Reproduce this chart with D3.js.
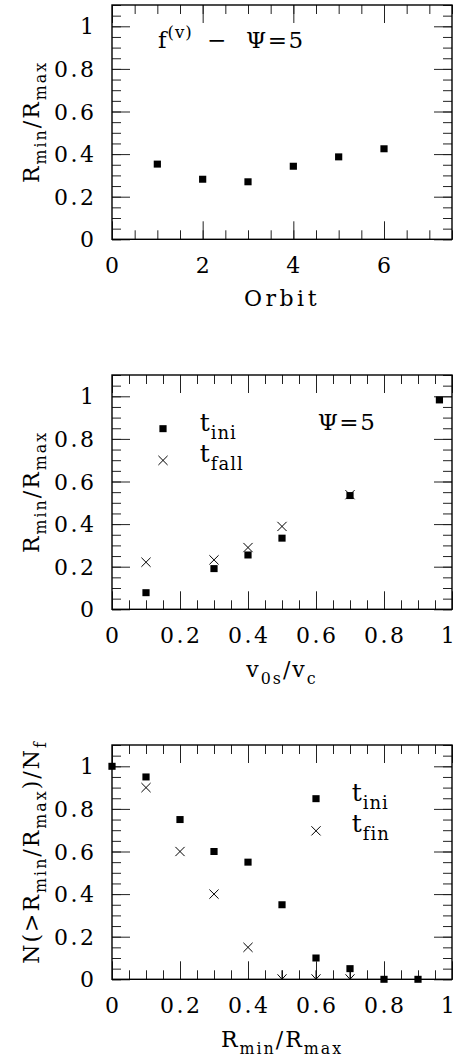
<!DOCTYPE html>
<html>
<head>
<meta charset="utf-8">
<script src="https://cdn.jsdelivr.net/npm/d3@7"></script>
<style>
  html, body { margin: 0; padding: 0; background: #fff; }
  svg { display: block; }
  text { font-family: "DejaVu Serif", serif; fill: #000; }
</style>
</head>
<body>
<svg id="chart" width="457" height="1064"></svg>
<script>
// ---- data ----
// Panel 1: pericentre/apocentre ratio per orbit, f^(v) model
const orbits = [1, 2, 3, 4, 5, 6];
const ratioByOrbit = [0.353, 0.282, 0.27, 0.343, 0.387, 0.425];

// Panel 2: ratio against initial velocity
const v0s = [0.1, 0.3, 0.4, 0.5, 0.7, 0.963];
const ratioIni = [0.078, 0.191, 0.255, 0.334, 0.534, 0.983];
const v0sFall = [0.1, 0.3, 0.4, 0.5, 0.7];
const ratioFall = [0.221, 0.232, 0.29, 0.389, 0.538];

// Panel 3: cumulative fraction above a given ratio
const rminBins = [0, 0.1, 0.2, 0.3, 0.4, 0.5, 0.6, 0.7, 0.8, 0.9];
const cumIni = [1.0, 0.95, 0.75, 0.6, 0.55, 0.35, 0.1, 0.05, 0, 0];
const rminFin = [0.1, 0.2, 0.3, 0.4];
const cumFin = [0.9, 0.6, 0.4, 0.15];
const rminFinLimit = [0.5, 0.6, 0.7];
const cumFinLimit = [0, 0, 0];

// tick labels
const ticksOrbit = [0, 2, 4, 6];
const ticksUnit = [0, 0.2, 0.4, 0.6, 0.8, 1];
const ticksY = [0, 0.2, 0.4, 0.6, 0.8, 1];

// ---- layout ----
const svg = d3.select("#chart");
const L = 112, R = 452, H = 234.3;
const FS = 22;          // tick labels
const TS = 22;          // titles and annotations
const LS = 2.5;         // tick label letter spacing
const MAJ = 18, MIN = 9;

function rich(textSel, parts, size) {
  const small = size * 0.72, shift = size * 0.3, up = size * 0.42;
  let state = 0; // 0 normal, 1 sub, -1 sup
  parts.forEach(p => {
    const want = p.sub ? 1 : (p.sup ? -1 : 0);
    const ts = textSel.append("tspan").text(p.t);
    let dy = 0;
    if (state === 1) dy -= shift;
    if (state === -1) dy += up;
    if (want === 1) dy += shift;
    if (want === -1) dy -= up;
    if (dy !== 0) ts.attr("dy", dy);
    ts.attr("font-size", want === 0 ? size : small);
    state = want;
  });
  return textSel;
}

const fmt = d => (d === 0 ? "0" : d === 1 ? "1" : d3.format(".1f")(d));

function panel(cfg) {
  const top = cfg.top, bot = top + H;
  const x = d3.scaleLinear().domain(cfg.xDomain).range([L, R]);
  const y = d3.scaleLinear().domain([0, 1.1]).range([bot, top]);
  const g = svg.append("g");

  const minorX = d3.range(cfg.xDomain[0], cfg.xDomain[1] + 1e-9, cfg.xMinor);
  const minorY = d3.range(0, 1.1 + 1e-9, 0.05);

  function tickAxis(axisFn, scale, vals, size, tr) {
    const a = g.append("g").attr("transform", tr)
      .call(axisFn(scale).tickValues(vals).tickSize(size).tickFormat(""));
    a.select(".domain").remove();
    a.selectAll("line").attr("stroke", "#222").attr("stroke-width", 1);
  }
  // minor and major ticks on all four sides, pointing inward
  tickAxis(d3.axisBottom, x, minorX, -MIN, `translate(0,${bot})`);
  tickAxis(d3.axisBottom, x, cfg.xMajor, -MAJ, `translate(0,${bot})`);
  tickAxis(d3.axisTop, x, minorX, -MIN, `translate(0,${top})`);
  tickAxis(d3.axisTop, x, cfg.xMajor, -MAJ, `translate(0,${top})`);
  tickAxis(d3.axisLeft, y, minorY, -MIN, `translate(${L},0)`);
  tickAxis(d3.axisLeft, y, ticksY, -MAJ, `translate(${L},0)`);
  tickAxis(d3.axisRight, y, minorY, -MIN, `translate(${R},0)`);
  tickAxis(d3.axisRight, y, ticksY, -MAJ, `translate(${R},0)`);

  // frame
  g.append("rect").attr("x", L).attr("y", top).attr("width", R - L).attr("height", H)
    .attr("fill", "none").attr("stroke", "#000").attr("stroke-width", 1.4);

  // tick labels
  g.selectAll(".xl").data(cfg.xMajor).join("text")
    .attr("x", d => Math.min(x(d) + LS / 2, 449)).attr("y", bot + 34)
    .attr("text-anchor", "middle").attr("font-size", FS).attr("letter-spacing", LS)
    .text(cfg.xFmt);
  g.selectAll(".yl").data(ticksY).join("text")
    .attr("x", 94 + LS).attr("y", d => y(d) + 8)
    .attr("text-anchor", "end").attr("font-size", FS).attr("letter-spacing", LS)
    .text(fmt);

  // axis titles
  rich(g.append("text").attr("x", (L + R) / 2).attr("y", cfg.xTitleY)
    .attr("text-anchor", "middle").attr("letter-spacing", cfg.xTitleLS || 2), cfg.xTitle, TS);
  rich(g.append("text")
    .attr("transform", `translate(39,${cfg.yTitleC}) rotate(-90)`)
    .attr("text-anchor", "middle").attr("letter-spacing", 2), cfg.yTitle, TS);

  return { g, x, y, top, bot };
}

function squares(p, xs, ys) {
  p.g.selectAll(null).data(xs).join("rect")
    .attr("x", (d) => p.x(d) - 3.6)
    .attr("y", (d, i) => p.y(ys[i]) - 3.5)
    .attr("width", 7.2).attr("height", 7)
    .attr("fill", "#000");
}
function crosses(p, xs, ys) {
  const s = 4.6;
  p.g.selectAll(null).data(xs).join("path")
    .attr("d", (d, i) => {
      const cx = p.x(d), cy = p.y(ys[i]);
      return `M${cx - s},${cy - s}L${cx + s},${cy + s}M${cx - s},${cy + s}L${cx + s},${cy - s}`;
    })
    .attr("stroke", "#000").attr("stroke-width", 1).attr("fill", "none");
}
function downArrows(p, xs, ys) {
  p.g.selectAll(null).data(xs).join("path")
    .attr("d", (d, i) => {
      const cx = p.x(d), cy = p.y(ys[i]);
      return `M${cx},${cy - 9}L${cx},${cy}M${cx - 4.5},${cy - 5}L${cx},${cy}L${cx + 4.5},${cy - 5}`;
    })
    .attr("stroke", "#000").attr("stroke-width", 1).attr("fill", "none");
}

// ---- panel 1 ----
const p1 = panel({
  top: 5, xDomain: [0, 7.5], xMajor: ticksOrbit, xMinor: 0.5, xFmt: d => d,
  xTitle: [{ t: "Orbit" }], xTitleY: 306, xTitleLS: 3.5,
  yTitle: [{ t: "R" }, { t: "min", sub: true }, { t: "/R" }, { t: "max", sub: true }], yTitleC: 122
});
squares(p1, orbits, ratioByOrbit);
rich(p1.g.append("text").attr("x", 158).attr("y", 48).attr("letter-spacing", 1),
  [{ t: "f" }, { t: "(v)", sup: true }], TS + 1);
p1.g.append("text").attr("x", 207).attr("y", 48).attr("font-size", TS + 1).text("−");
p1.g.append("text").attr("x", 246).attr("y", 48).attr("font-size", TS + 1)
  .attr("letter-spacing", 1.5).text("Ψ=5");

// ---- panel 2 ----
const p2 = panel({
  top: 375, xDomain: [0, 1], xMajor: ticksUnit, xMinor: 0.05, xFmt: fmt,
  xTitle: [{ t: "v" }, { t: "0s", sub: true }, { t: "/v" }, { t: "c", sub: true }], xTitleY: 677,
  yTitle: [{ t: "R" }, { t: "min", sub: true }, { t: "/R" }, { t: "max", sub: true }], yTitleC: 492
});
crosses(p2, v0sFall, ratioFall);
squares(p2, v0s, ratioIni);
// legend
squares(p2, [0.15], [0.848]);
crosses(p2, [0.15], [0.699]);
rich(p2.g.append("text").attr("x", p2.x(0.258)).attr("y", p2.y(0.85) + 3).attr("letter-spacing", 1),
  [{ t: "t" }, { t: "ini", sub: true }], TS + 3);
rich(p2.g.append("text").attr("x", p2.x(0.258)).attr("y", p2.y(0.7) + 2).attr("letter-spacing", 1),
  [{ t: "t" }, { t: "fall", sub: true }], TS + 3);
p2.g.append("text").attr("x", p2.x(0.605)).attr("y", p2.y(0.87) + 6)
  .attr("font-size", TS + 1).attr("letter-spacing", 1.5).text("Ψ=5");

// ---- panel 3 ----
const p3 = panel({
  top: 745, xDomain: [0, 1], xMajor: ticksUnit, xMinor: 0.05, xFmt: fmt,
  xTitle: [{ t: "R" }, { t: "min", sub: true }, { t: "/R" }, { t: "max", sub: true }], xTitleY: 1047,
  yTitle: [{ t: "N(>R" }, { t: "min", sub: true }, { t: "/R" }, { t: "max", sub: true }, { t: ")/N" }, { t: "f", sub: true }], yTitleC: 852
});
crosses(p3, rminFin, cumFin);
downArrows(p3, rminFinLimit, cumFinLimit);
squares(p3, rminBins, cumIni);
// legend
squares(p3, [0.6], [0.848]);
crosses(p3, [0.6], [0.697]);
rich(p3.g.append("text").attr("x", p3.x(0.705)).attr("y", p3.y(0.85) + 3).attr("letter-spacing", 1),
  [{ t: "t" }, { t: "ini", sub: true }], TS + 3);
rich(p3.g.append("text").attr("x", p3.x(0.705)).attr("y", p3.y(0.7) + 2).attr("letter-spacing", 1),
  [{ t: "t" }, { t: "fin", sub: true }], TS + 3);
</script>
</body>
</html>
